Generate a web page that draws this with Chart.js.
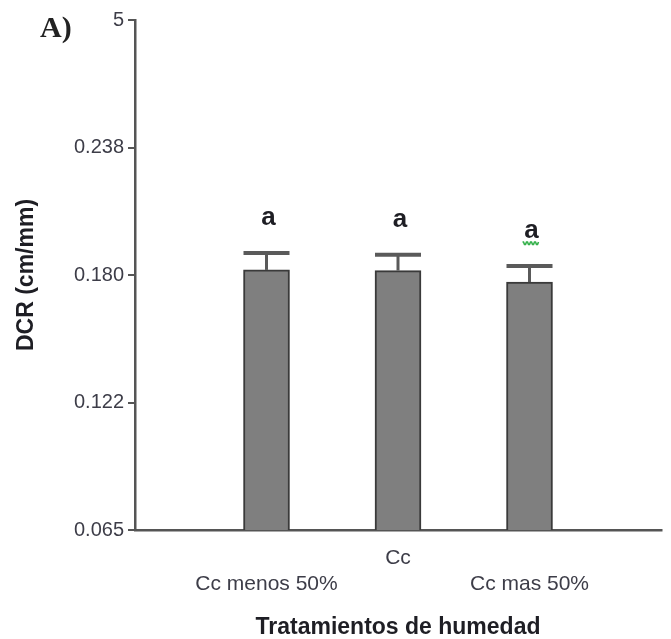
<!DOCTYPE html>
<html>
<head>
<meta charset="utf-8">
<title>DCR por tratamiento de humedad</title>
<script src="https://cdn.jsdelivr.net/npm/chart.js@4.4.1/dist/chart.umd.min.js"></script>
<style>
  html, body { margin: 0; padding: 0; background: #ffffff; }
  #wrap { width: 671px; height: 639px; }
</style>
</head>
<body>
<div id="wrap"><canvas id="chart" width="671" height="639"></canvas></div>
<script>
// Humidity treatments and their mean DCR (cm/mm) with upper standard error
const categories = ['Cc menos 50%', 'Cc', 'Cc mas 50%'];
const dcrMeans = [0.1828, 0.1825, 0.1773];
const dcrErrors = [0.0077, 0.0072, 0.0073];
const groupLetters = ['a', 'a', 'a'];

// Y axis ticks (evenly spaced) and the labels printed beside them
const yTickValues = [0.065, 0.12275, 0.1805, 0.23825, 0.296];
const yTickLabels = ['0.065', '0.122', '0.180', '0.238', '5'];

// Empty slots on both ends leave room between the axis and the bars
const xLabels = ['', ...categories, ''];
const barData = [null, ...dcrMeans, null];
const errData = [null, ...dcrErrors, null];
const letterData = ['', ...groupLetters, ''];

const AXIS = '#555555';
const TEXT = '#3d3d48';

// Upper error whiskers, significance letters and panel tag
const annotations = {
  id: 'annotations',
  afterDatasetsDraw(chart) {
    const ctx = chart.ctx;
    const y = chart.scales.y;
    const meta = chart.getDatasetMeta(0);
    ctx.save();
    meta.data.forEach((bar, i) => {
      if (barData[i] == null) return;
      const half = bar.width / 2;
      const yTop = bar.y;
      const yErr = y.getPixelForValue(barData[i] + errData[i]);
      // stem
      ctx.strokeStyle = '#5a5a5a';
      ctx.lineWidth = 3;
      ctx.beginPath();
      ctx.moveTo(bar.x, yTop);
      ctx.lineTo(bar.x, yErr);
      ctx.stroke();
      // cap
      ctx.lineWidth = 4;
      ctx.beginPath();
      ctx.moveTo(bar.x - half, yErr);
      ctx.lineTo(bar.x + half, yErr);
      ctx.stroke();
      // letter
      ctx.fillStyle = '#1e1e24';
      ctx.font = 'bold 26px "Liberation Sans", Arial, sans-serif';
      ctx.textAlign = 'center';
      ctx.textBaseline = 'alphabetic';
      ctx.fillText(letterData[i], bar.x + 2, yErr - 28);
      if (i === 3) {
        // wavy green underline under the last letter
        ctx.strokeStyle = '#34b04a';
        ctx.lineWidth = 1.6;
        ctx.beginPath();
        const x0 = bar.x - 7, yw = yErr - 24;
        for (let k = 0; k <= 16; k++) {
          const xx = x0 + k;
          const yy = yw + (k % 4 < 2 ? 0 : 2.5);
          if (k === 0) ctx.moveTo(xx, yy); else ctx.lineTo(xx, yy);
        }
        ctx.stroke();
      }
    });
    ctx.fillStyle = '#222222';
    ctx.font = 'bold 30px "Liberation Serif", "Times New Roman", serif';
    ctx.textAlign = 'left';
    ctx.textBaseline = 'alphabetic';
    ctx.fillText('A)', 40, 37);
    ctx.restore();
  }
};

new Chart(document.getElementById('chart'), {
  type: 'bar',
  data: {
    labels: xLabels,
    datasets: [{
      data: barData,
      backgroundColor: '#7f7f7f',
      borderColor: '#3a3a3a',
      borderWidth: 2,
      barThickness: 46
    }]
  },
  options: {
    responsive: false,
    animation: false,
    devicePixelRatio: 1,
    layout: { padding: { top: 20, right: 10, bottom: 0, left: 0 } },
    plugins: {
      legend: { display: false },
      tooltip: { enabled: false }
    },
    scales: {
      x: {
        offset: false,
        afterFit: s => { s.height = 109; },
        border: { display: true, color: AXIS, width: 2.5 },
        grid: {
          display: true,
          drawOnChartArea: false,
          drawTicks: true,
          tickLength: 10,
          lineWidth: 2.5,
          color: c => (c.index === 0 ? AXIS : 'rgba(0,0,0,0)')
        },
        ticks: {
          autoSkip: false,
          maxRotation: 0,
          padding: 6,
          color: TEXT,
          font: { family: '"Liberation Sans", Arial, sans-serif', size: 21 },
          callback: (v, i) => (i === 2 ? xLabels[i] : ['', xLabels[i]])
        },
        title: {
          display: true,
          text: 'Tratamientos de humedad',
          color: '#1e1e24',
          font: { family: '"Liberation Sans", Arial, sans-serif', size: 23, weight: 'bold', lineHeight: 1.0 },
          padding: { top: 0, bottom: 0 }
        }
      },
      y: {
        min: yTickValues[0],
        max: yTickValues[yTickValues.length - 1],
        afterFit: s => { s.width = 135; },
        afterBuildTicks: s => { s.ticks = yTickValues.map(v => ({ value: v })); },
        border: { display: true, color: AXIS, width: 2.5 },
        grid: {
          display: true,
          drawOnChartArea: false,
          drawTicks: true,
          tickLength: 7,
          lineWidth: 2,
          color: AXIS
        },
        ticks: {
          padding: 4,
          color: TEXT,
          font: { family: '"Liberation Sans", Arial, sans-serif', size: 20 },
          callback: (v, i) => yTickLabels[i]
        },
        title: {
          display: true,
          text: 'DCR (cm/mm)',
          color: '#1e1e24',
          font: { family: '"Liberation Sans", Arial, sans-serif', size: 23, weight: 'bold', lineHeight: 1.2 },
          padding: { top: 13, bottom: 0 }
        }
      }
    }
  },
  plugins: [annotations]
});
</script>
</body>
</html>
